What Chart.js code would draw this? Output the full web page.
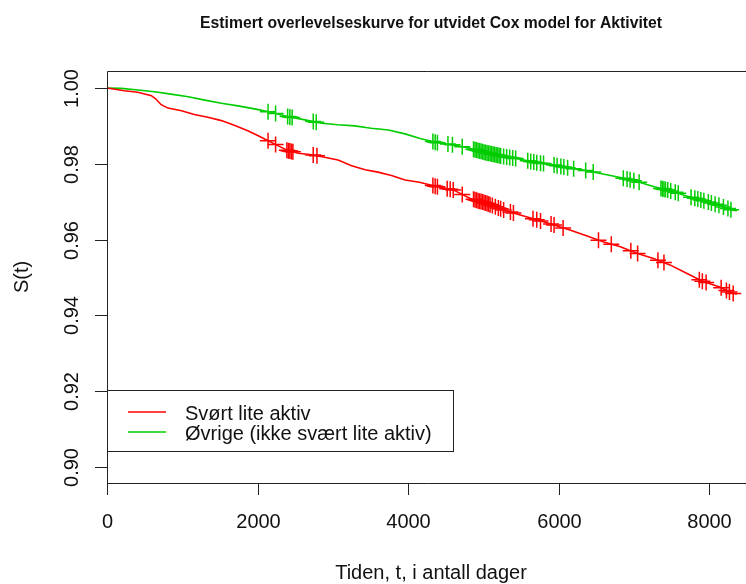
<!DOCTYPE html>
<html>
<head>
<meta charset="utf-8">
<script src="https://cdn.jsdelivr.net/npm/chart.js@4"></script>
<style>
  body { margin: 0; background: #fff; }
  canvas { display: block; }
</style>
</head>
<body>
<canvas id="survChart" width="746" height="584"></canvas>
<script>
// curves: time (days) and estimated S(t)
const redTimes = [0, 230, 410, 590, 650, 720, 810, 990, 1160, 1340, 1520, 1700, 1870, 2010, 2140, 2270, 2400, 2540, 2720, 2890, 3070, 3250, 3430, 3600, 3780, 3960, 4150, 4380, 4600, 4820, 5040, 5270, 5490, 5710, 5930, 6150, 6370, 6590, 6820, 7040, 7260, 7480, 7700, 7920, 8150, 8300, 8370];
const redSurv = [1.0, 0.9993, 0.9989, 0.998, 0.9971, 0.9956, 0.9947, 0.994, 0.993, 0.9923, 0.9914, 0.9901, 0.9887, 0.9874, 0.9861, 0.9848, 0.9835, 0.9828, 0.9824, 0.9817, 0.981, 0.9795, 0.9784, 0.9778, 0.9769, 0.9757, 0.9751, 0.974, 0.9731, 0.9709, 0.9696, 0.9678, 0.9665, 0.9652, 0.9639, 0.9625, 0.961, 0.9594, 0.9581, 0.9564, 0.955, 0.9533, 0.9511, 0.9489, 0.9474, 0.9458, 0.9456];

const greenTimes = [0, 190, 410, 630, 850, 1080, 1300, 1520, 1740, 1960, 2180, 2410, 2630, 2850, 3070, 3290, 3510, 3740, 3960, 4160, 4380, 4600, 4820, 5040, 5270, 5490, 5710, 5930, 6150, 6370, 6590, 6820, 7040, 7260, 7480, 7700, 7920, 8150, 8300, 8370];
const greenSurv = [1.0, 0.9999, 0.9995, 0.999, 0.9984, 0.9977, 0.9968, 0.996, 0.9953, 0.9945, 0.9936, 0.9924, 0.9916, 0.9907, 0.9903, 0.99, 0.9894, 0.9889, 0.9879, 0.9867, 0.9856, 0.985, 0.9841, 0.9829, 0.9819, 0.9812, 0.9803, 0.9797, 0.9788, 0.9782, 0.9773, 0.9764, 0.9753, 0.974, 0.9729, 0.9715, 0.9703, 0.9689, 0.9678, 0.9676];

// censoring times (+ marks)
const redCensor = [2140, 2240, 2390, 2410, 2430, 2450, 2470, 2740, 2790, 4330, 4360, 4390, 4520, 4560, 4600, 4720, 4870, 4890, 4910, 4930, 4950, 4970, 4990, 5010, 5030, 5050, 5070, 5090, 5120, 5160, 5200, 5230, 5270, 5360, 5400, 5660, 5710, 5760, 5900, 5940, 6060, 6530, 6700, 6960, 7050, 7320, 7400, 7870, 7910, 7960, 8160, 8230, 8270, 8320];
const greenCensor = [2140, 2240, 2400, 2430, 2460, 2740, 2780, 4330, 4360, 4390, 4530, 4590, 4720, 4870, 4890, 4910, 4930, 4950, 4970, 4990, 5010, 5030, 5050, 5070, 5090, 5110, 5130, 5150, 5170, 5190, 5210, 5230, 5270, 5310, 5350, 5390, 5430, 5590, 5630, 5670, 5710, 5760, 5800, 5940, 5980, 6030, 6070, 6120, 6200, 6360, 6460, 6860, 6910, 6950, 7000, 7070, 7360, 7380, 7400, 7420, 7450, 7490, 7550, 7590, 7760, 7810, 7850, 7890, 7930, 7990, 8030, 8080, 8130, 8190, 8250, 8290];

const xTicks = [0, 2000, 4000, 6000, 8000];
const yTicks = [0.90, 0.92, 0.94, 0.96, 0.98, 1.00];
const seriesLabels = ['Svørt lite aktiv', 'Øvrige (ikke svært lite aktiv)'];

const RED = '#ff0000';
const GREEN = 'rgb(0,205,0)';

// value of the drawn curve at time t, so the + sits on the line
function curveAt(times, surv, t) {
  for (let i = 1; i < times.length; i++) {
    if (t <= times[i]) {
      const f = (t - times[i - 1]) / (times[i] - times[i - 1]);
      return surv[i - 1] + f * (surv[i] - surv[i - 1]);
    }
  }
  return surv[surv.length - 1];
}

// R style box, axes, labels and legend
const rAxes = {
  id: 'rAxes',
  afterDraw(chart) {
    const { ctx, chartArea: a, scales: { x, y } } = chart;
    ctx.save();
    ctx.strokeStyle = '#222';
    ctx.lineWidth = 1;
    ctx.beginPath();
    ctx.moveTo(a.right + 2, a.top + 0.5);
    ctx.lineTo(a.left + 0.5, a.top + 0.5);
    ctx.lineTo(a.left + 0.5, a.bottom + 0.5);
    ctx.lineTo(a.right + 2, a.bottom + 0.5);
    ctx.stroke();

    ctx.fillStyle = '#111';
    ctx.font = '20px "Liberation Sans", Arial, sans-serif';

    // x axis
    ctx.textAlign = 'center';
    ctx.textBaseline = 'alphabetic';
    xTicks.forEach(v => {
      const px = Math.round(x.getPixelForValue(v)) + 0.5;
      ctx.beginPath();
      ctx.moveTo(px, a.bottom);
      ctx.lineTo(px, a.bottom + 12);
      ctx.stroke();
      ctx.fillText(String(v), px, 528);
    });

    // y axis, labels read bottom to top
    yTicks.forEach(v => {
      const py = Math.round(y.getPixelForValue(v)) + 0.5;
      ctx.beginPath();
      ctx.moveTo(a.left - 12, py);
      ctx.lineTo(a.left, py);
      ctx.stroke();
      ctx.save();
      ctx.translate(78, py);
      ctx.rotate(-Math.PI / 2);
      ctx.fillText(v.toFixed(2), 0, 0);
      ctx.restore();
    });

    ctx.fillText('Tiden, t, i antall dager', 431, 579);
    ctx.save();
    ctx.translate(28, 277);
    ctx.rotate(-Math.PI / 2);
    ctx.fillText('S(t)', 0, 0);
    ctx.restore();

    // title
    ctx.font = 'bold 17px "Liberation Sans Narrow", "Liberation Sans", Arial, sans-serif';
    const title = 'Estimert overlevelseskurve for utvidet Cox model for Aktivitet';
    const w = ctx.measureText(title).width;
    ctx.save();
    ctx.translate(431, 28);
    ctx.scale(462 / w, 1);
    ctx.fillText(title, 0, 0);
    ctx.restore();

    // legend
    ctx.fillStyle = '#fff';
    ctx.fillRect(a.left + 0.5, 390.5, 346, 61);
    ctx.strokeStyle = '#222';
    ctx.strokeRect(a.left + 0.5, 390.5, 346, 61);
    const cols = [RED, GREEN];
    ctx.font = '20px "Liberation Sans", Arial, sans-serif';
    ctx.textAlign = 'left';
    seriesLabels.forEach((lab, i) => {
      const yy = 412 + i * 20;
      ctx.strokeStyle = cols[i];
      ctx.lineWidth = 1.3;
      ctx.beginPath();
      ctx.moveTo(128, yy);
      ctx.lineTo(166, yy);
      ctx.stroke();
      ctx.fillStyle = '#111';
      ctx.fillText(lab, 185, yy + 8);
    });
    ctx.restore();
  }
};

const ctx = document.getElementById('survChart').getContext('2d');
const survChart = new Chart(ctx, {
  type: 'line',
  data: {
    datasets: [
      {
        label: seriesLabels[0],
        data: redTimes.map((t, i) => ({ x: t, y: redSurv[i] })),
        borderColor: RED,
        borderWidth: 1.6,
        tension: 0,
        pointRadius: 0,
        fill: false
      },
      {
        label: seriesLabels[1],
        data: greenTimes.map((t, i) => ({ x: t, y: greenSurv[i] })),
        borderColor: GREEN,
        borderWidth: 1.6,
        tension: 0,
        pointRadius: 0,
        fill: false
      },
      {
        label: 'sensurert ' + seriesLabels[0],
        data: redCensor.map(t => ({ x: t, y: curveAt(redTimes, redSurv, t) })),
        showLine: false,
        borderColor: RED,
        pointStyle: 'cross',
        pointRadius: 8,
        pointBorderWidth: 1.5
      },
      {
        label: 'sensurert ' + seriesLabels[1],
        data: greenCensor.map(t => ({ x: t, y: curveAt(greenTimes, greenSurv, t) })),
        showLine: false,
        borderColor: GREEN,
        pointStyle: 'cross',
        pointRadius: 8,
        pointBorderWidth: 1.5
      }
    ]
  },
  options: {
    responsive: false,
    animation: false,
    layout: { autoPadding: false, padding: { left: 107, top: 71, right: 0, bottom: 101 } },
    scales: {
      x: { type: 'linear', min: 0, max: 8490, display: false },
      y: { min: 0.8957, max: 1.0045, display: false }
    },
    plugins: {
      legend: { display: false },
      tooltip: { enabled: false }
    }
  },
  plugins: [rAxes]
});
</script>
</body>
</html>
